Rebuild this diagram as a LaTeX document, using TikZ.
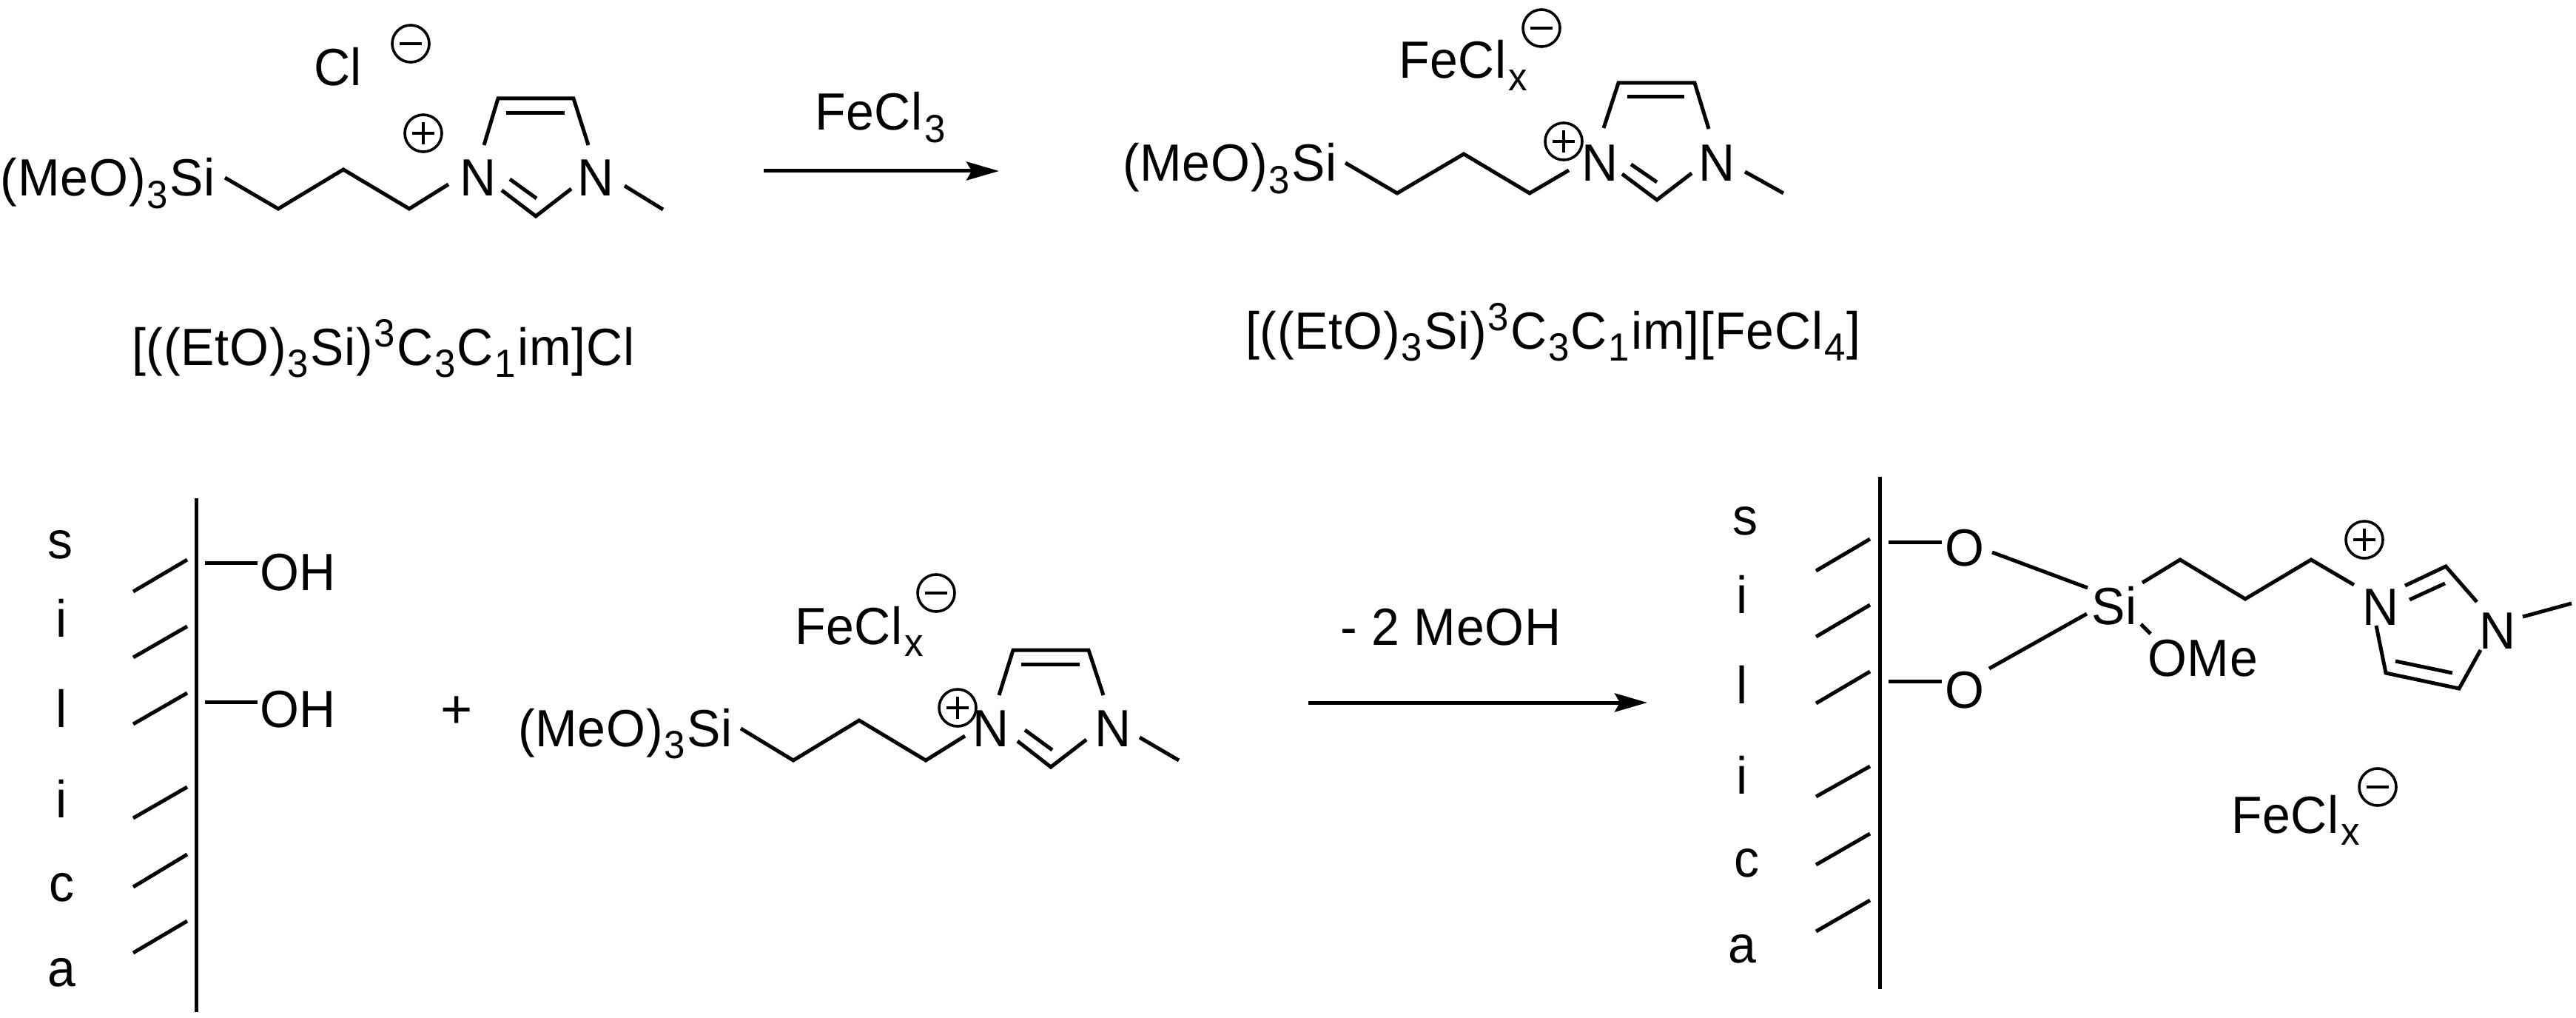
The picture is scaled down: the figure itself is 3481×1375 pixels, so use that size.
\documentclass[tikz,border=0pt]{standalone}
\usepackage{graphicx}
\usepackage{fontspec}
\setmainfont[Kerning=Off,LetterSpace=1.2]{Liberation Sans}
\usetikzlibrary{arrows.meta}
\newcommand{\lsub}[1]{\kern1pt\raisebox{-8pt}{\fontsize{25.5}{25.5}\selectfont #1}\kern1pt}
\newcommand{\lsup}[1]{\kern1pt\raisebox{12pt}{\fontsize{25.5}{25.5}\selectfont #1}\kern1pt}
\newcommand{\tall}[1]{\scalebox{1}[1.04]{#1}}
\tikzset{
  chem/.style={anchor=base west,inner sep=0pt,outer sep=0pt,font=\fontsize{34}{34}\selectfont},
  chemc/.style={anchor=base,inner sep=0pt,outer sep=0pt,font=\fontsize{34}{34}\selectfont},
  bond/.style={line width=2.5pt,line join=miter,line cap=butt},
  rxn/.style={line width=2.5pt,-{Stealth[length=22pt,width=12.5pt,inset=3.5pt]}},
  chg/.style={draw,circle,line width=1.8pt,minimum size=25pt,inner sep=0pt,outer sep=0pt},
  bar/.style={line width=2pt}
}
% charge symbols
\newcommand{\minuschg}[2]{\node[chg] (#1) at (#2) {};
  \draw[bar] ([xshift=-7.5pt]#1.center) -- ([xshift=7.5pt]#1.center);}
\newcommand{\pluschg}[2]{\minuschg{#1}{#2}
  \draw[bar] ([yshift=-7.5pt]#1.center) -- ([yshift=7.5pt]#1.center);}
\begin{document}
\begin{tikzpicture}[x=0.5pt,y=-0.5pt]
\useasboundingbox (0,0) rectangle (3481,1375);
% ---------- top-left cation + chloride
\node[chem] (clA) at (424,116) {\tall{Cl}};
\minuschg{mA}{555,59}
\pluschg{pA}{572,180}
\node[chem] (siA) at (1,265) {\tall{(MeO)\lsub{3}Si}};
\node[chem] (n1A) at (621,265) {\tall{N}};
\node[chem] (n2A) at (780,265) {\tall{N}};
\draw[bond] (304,240) -- (376,282) -- (464,229) -- (553,282) -- (606,249);
\draw[bond] (654,196) -- (673,133) -- (775,133) -- (795,196);
\draw[bond] (684,153) -- (763,153);
\draw[bond] (678,257) -- (724,292) -- (772,255);
\draw[bond] (689,242) -- (725,268);
\draw[bond] (844,251) -- (896,283);
\node[chem] (labA) at (178,493) {\tall{[((EtO)\lsub{3}Si)\lsup{3}C\lsub{3}C\lsub{1}im]Cl}};
% ---------- arrow 1
\node[chem] (fecl3) at (1101,176) {\tall{FeCl\lsub{3}}};
\coordinate (a1s) at (1032,231);
\coordinate (a1e) at (1350,231);
\draw[rxn] (a1s) -- (a1e);
% ---------- top-right
\node[chem] (feB) at (1890,106) {\tall{FeCl\lsub{x}}};
\minuschg{mB}{2083,38}
\pluschg{pB}{2113,191}
\node[chem] (siB) at (1517,245) {\tall{(MeO)\lsub{3}Si}};
\node[chem] (n1B) at (2137,245) {\tall{N}};
\node[chem] (n2B) at (2295,245) {\tall{N}};
\draw[bond] (1818,220) -- (1888,261) -- (1978,208) -- (2067,261) -- (2120,230);
\draw[bond] (2167,173) -- (2187,112) -- (2290,112) -- (2309,174);
\draw[bond] (2199,131) -- (2276,131);
\draw[bond] (2192,235) -- (2239,270) -- (2286,234);
\draw[bond] (2204,222) -- (2239,246);
\draw[bond] (2358,232) -- (2410,261);
\node[chem] (labB) at (1683,471) {\tall{[((EtO)\lsub{3}Si)\lsup{3}C\lsub{3}C\lsub{1}im][FeCl\lsub{4}]}};
% ---------- bottom-left silica
\draw[bond] (265,673) -- (265,1367);
\draw[bond] (180,799) -- (253,756);
\draw[bond] (180,888) -- (253,846);
\draw[bond] (180,978) -- (253,936);
\draw[bond] (180,1105) -- (253,1063);
\draw[bond] (180,1198) -- (253,1154);
\draw[bond] (180,1287) -- (253,1244);
\node[chemc] (s1) at (81,754) {\tall{s}};
\node[chemc] (i1) at (83,860) {\tall{i}};
\node[chemc] (l1) at (83,982) {\tall{l}};
\node[chemc] (i2) at (83,1104) {\tall{i}};
\node[chemc] (c1) at (83,1217) {\tall{c}};
\node[chemc] (a1) at (83,1332) {\tall{a}};
\draw[bond] (277,760) -- (348,760);
\draw[bond] (277,948) -- (348,948);
\node[chem] (oh1) at (351,797) {\tall{OH}};
\node[chem] (oh2) at (351,982) {\tall{OH}};
\node[chemc,font=\fontsize{37}{37}\selectfont] (plus) at (617,983) {+};
% ---------- bottom middle
\node[chem] (feC) at (1074,870) {\tall{FeCl\lsub{x}}};
\minuschg{mC}{1265,801}
\pluschg{pC}{1294,956}
\node[chem] (siC) at (700,1008) {\tall{(MeO)\lsub{3}Si}};
\node[chem] (n1C) at (1314,1008) {\tall{N}};
\node[chem] (n2C) at (1479,1008) {\tall{N}};
\draw[bond] (1001,984) -- (1072,1027) -- (1161,973) -- (1251,1027) -- (1304,994);
\draw[bond] (1350,939) -- (1369,878) -- (1471,878) -- (1491,939);
\draw[bond] (1380,897) -- (1459,897);
\draw[bond] (1375,1001) -- (1420,1036) -- (1468,999);
\draw[bond] (1385,986) -- (1422,1013);
\draw[bond] (1540,996) -- (1593,1027);
% ---------- arrow 2
\node[chem] (meoh) at (1811,871) {\tall{- 2 MeOH}};
\coordinate (a2s) at (1768,949);
\coordinate (a2e) at (2226,949);
\draw[rxn] (a2s) -- (a2e);
% ---------- bottom right
\draw[bond] (2540,644) -- (2540,1336);
\draw[bond] (2454,771) -- (2527,728);
\draw[bond] (2454,860) -- (2527,817);
\draw[bond] (2454,950) -- (2527,907);
\draw[bond] (2454,1076) -- (2527,1035);
\draw[bond] (2454,1168) -- (2527,1126);
\draw[bond] (2454,1258) -- (2527,1216);
\node[chemc] (s2) at (2358,722) {\tall{s}};
\node[chemc] (i3) at (2354,828) {\tall{i}};
\node[chemc] (l2) at (2354,950) {\tall{l}};
\node[chemc] (i4) at (2354,1072) {\tall{i}};
\node[chemc] (c2) at (2360,1184) {\tall{c}};
\node[chemc] (a2) at (2354,1300) {\tall{a}};
\draw[bond] (2552,732) -- (2624,732);
\draw[bond] (2552,920) -- (2624,920);
\node[chemc] (o1) at (2655,764) {\tall{O}};
\node[chemc] (o2) at (2655,956) {\tall{O}};
\draw[bond] (2692,746) -- (2821,794);
\draw[bond] (2688,903) -- (2820,829);
\node[chem] (siD) at (2826,843) {\tall{Si}};
\node[chem] (ome) at (2902,913) {\tall{OMe}};
\draw[bond] (2893,843) -- (2906,856);
\draw[bond] (2895,787) -- (2946,756) -- (3034,809) -- (3123,756) -- (3181,790);
\pluschg{pD}{3195,729}
\node[chem] (n1D) at (3192,844) {\tall{N}};
\node[chem] (n2D) at (3350,876) {\tall{N}};
\draw[bond] (3211,845) -- (3224,909) -- (3323,930) -- (3352,878);
\draw[bond] (3237,893) -- (3314,909);
\draw[bond] (3250,791) -- (3305,765) -- (3347,813);
\draw[bond] (3256,810) -- (3304,788);
\draw[bond] (3409,833) -- (3475,815);
\node[chem] (feD) at (3015,1125) {\tall{FeCl\lsub{x}}};
\minuschg{mD}{3213,1063}
\end{tikzpicture}
\end{document}
